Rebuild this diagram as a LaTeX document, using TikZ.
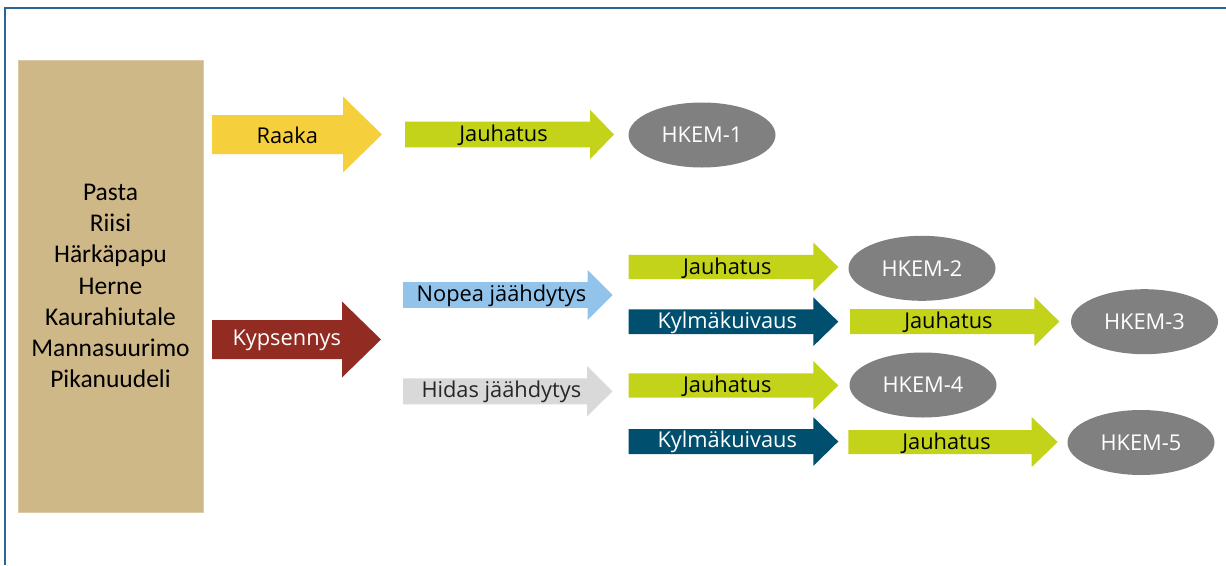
\documentclass[tikz,border=0pt]{standalone}
\usepackage{fontspec}
\setmainfont{Open Sans}
\newfontfamily\boxfont{Carlito}
\usetikzlibrary{shapes.geometric}
\definecolor{framecol}{HTML}{2B6596}
\definecolor{tancol}{HTML}{CFB887}
\definecolor{rawcol}{HTML}{F6CF3D}
\definecolor{millcol}{HTML}{C3D31A}
\definecolor{cookcol}{HTML}{922B22}
\definecolor{fastcol}{HTML}{92C3EB}
\definecolor{slowcol}{HTML}{D9D9D9}
\definecolor{freezecol}{HTML}{014F6E}
\definecolor{hkemcol}{HTML}{808080}
\tikzset{
    labeltext/.style={font=\fontsize{21.8}{26}\selectfont, inner sep=0pt},
    rawstep/.style={fill=rawcol, text=black},
    millstep/.style={fill=millcol, text=black},
    cookstep/.style={fill=cookcol, text=white},
    faststep/.style={fill=fastcol, text=black},
    slowstep/.style={fill=slowcol, text=black!85},
    freezestep/.style={fill=freezecol, text=white},
    hkem/.style={ellipse, fill=hkemcol, text=white, minimum width=147pt,
        minimum height=65pt, inner sep=0pt,
        font=\fontsize{21.8}{26}\selectfont},
}
% block arrow: name, style, left x, tip x, mid y, shaft, head, head length, text
\newcommand{\flowarrow}[9]{%
    \fill[#2] (#3, #5-#6) -- (#4-#8, #5-#6) -- (#4-#8, #5-#7) -- (#4, #5)
        -- (#4-#8, #5+#7) -- (#4-#8, #5+#6) -- (#3, #5+#6) -- cycle;
    \node[labeltext, #2, fill=none] (#1) at ({(#3+#4-#8/2)/2}, #5+0.8) {#9};
}

\begin{document}
\begin{tikzpicture}[x=1pt, y=-1pt]
    \useasboundingbox (0, 0) rectangle (1226, 565);
    \draw[framecol, line width=1.5pt] (1226, 8) -- (5, 8) -- (5, 565);
    \node[fill=tancol, draw=tancol!75!white, line width=0.8pt,
        minimum width=185pt, minimum height=452pt, align=center,
        font=\boxfont\fontsize{25.5}{31.3}\selectfont] (foods) at (110.5, 286)
        {Pasta\\Riisi\\Härkäpapu\\Herne\\Kaurahiutale\\Mannasuurimo\\Pikanuudeli};
    % first column
    \flowarrow{raw}{rawstep}{212}{382}{134.5}{19.5}{38}{39}{Raaka}
    \flowarrow{cook}{cookstep}{212}{381}{339.5}{19.5}{38}{39}{Kypsennys}
    % second column
    \flowarrow{mill1}{millstep}{405}{614}{134.5}{12.8}{24.7}{24}{Jauhatus}
    \flowarrow{fast}{faststep}{403}{612.5}{295}{12.8}{25}{25}{Nopea jäähdytys}
    \flowarrow{slow}{slowstep}{403}{612.5}{391.3}{13}{25.3}{25.5}{Hidas jäähdytys}
    % third column
    \flowarrow{mill2}{millstep}{628.7}{838.3}{267}{12.2}{24.5}{25}{Jauhatus}
    \flowarrow{freeze3}{freezestep}{628.7}{838.3}{321.7}{12.3}{24.4}{25}{Kylmäkuivaus}
    \flowarrow{mill4}{millstep}{628.7}{838.3}{385.5}{12.2}{24.5}{25}{Jauhatus}
    \flowarrow{freeze5}{freezestep}{628.7}{838.3}{441.5}{12.5}{24.4}{25}{Kylmäkuivaus}
    % fourth column
    \flowarrow{mill3}{millstep}{850}{1059.3}{321.5}{12.5}{24.7}{25}{Jauhatus}
    \flowarrow{mill5}{millstep}{848.3}{1057.7}{442}{12}{25}{26}{Jauhatus}
    % results
    \node[hkem] (hkem1) at (702, 135) {HKEM-1};
    \node[hkem] (hkem2) at (922, 268.3) {HKEM-2};
    \node[hkem] (hkem3) at (1144.5, 321.7) {HKEM-3};
    \node[hkem] (hkem4) at (923, 385) {HKEM-4};
    \node[hkem] (hkem5) at (1141, 442.5) {HKEM-5};
\end{tikzpicture}
\end{document}
